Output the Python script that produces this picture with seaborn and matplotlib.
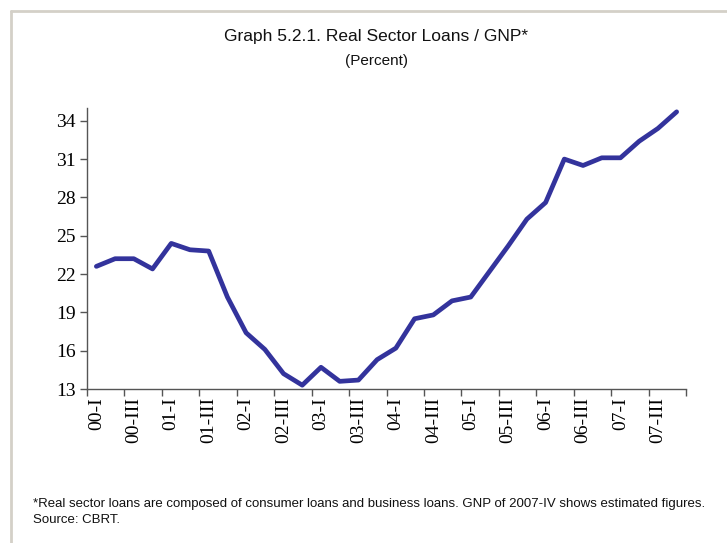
import matplotlib
matplotlib.use('Agg')
import matplotlib.pyplot as plt
import seaborn as sns
import pandas as pd
from matplotlib.lines import Line2D

# quarterly data 2000-I .. 2007-IV
quarters = [f"{y:02d}-{q}" for y in range(0, 8) for q in ['I', 'II', 'III', 'IV']]
loans_gnp = [22.6, 23.2, 23.2, 22.4, 24.4, 23.9, 23.8, 20.2,
             17.4, 16.1, 14.2, 13.3, 14.7, 13.6, 13.7, 15.3,
             16.2, 18.5, 18.8, 19.9, 20.2, 22.2, 24.2, 26.3,
             27.6, 31.0, 30.5, 31.1, 31.1, 32.4, 33.4, 34.7]
y_ticks = [13, 16, 19, 22, 25, 28, 31, 34]

df = pd.DataFrame({'pos': range(len(quarters)), 'quarter': quarters, 'value': loans_gnp})

sns.set_theme(style='white')
narrow = ['Liberation Sans Narrow', 'Liberation Sans', 'DejaVu Sans']
serif = ['Liberation Serif', 'DejaVu Serif']

fig = plt.figure(figsize=(7.27, 5.43), dpi=100)
ax = fig.add_axes([87 / 727, 1 - 389 / 543, (686 - 87) / 727, (389 - 108) / 543])

sns.lineplot(data=df, x='pos', y='value', ax=ax, color='#33339c', linewidth=3.4)

ax.set_xlim(-0.5, len(quarters) - 0.5)
ax.set_ylim(13, 35)
ax.set_yticks(y_ticks)
ax.set_yticklabels([str(t) for t in y_ticks], family=serif, fontsize=14, color='black')

# tick marks on category boundaries, labels at every other quarter
ax.set_xticks([p - 0.5 for p in range(0, len(quarters) + 1, 2)])
ax.set_xticklabels([])
ax.set_xticks(list(range(0, len(quarters), 2)), minor=True)
ax.set_xticklabels(quarters[::2], minor=True, rotation=90, family=serif,
                   fontsize=14, color='black', va='top')
ax.tick_params(axis='x', which='minor', length=0, pad=6)
ax.tick_params(axis='x', which='major', direction='out', length=5, width=1, color='#555555', bottom=True)
ax.tick_params(axis='y', direction='out', length=5, width=1, color='#555555', left=True, pad=3)

ax.set_xlabel('')
ax.set_ylabel('')
for s in ['top', 'right']:
    ax.spines[s].set_visible(False)
for s in ['left', 'bottom']:
    ax.spines[s].set_color('#555555')
    ax.spines[s].set_linewidth(1)

fig.text(376 / 727, 1 - 37 / 543, 'Graph 5.2.1. Real Sector Loans / GNP*', ha='center', va='center',
         family=narrow, fontsize=12.5, color='#111111')
fig.text(376 / 727, 1 - 61 / 543, '(Percent)', ha='center', va='center',
         family=narrow, fontsize=11, color='#111111')
fig.text(33 / 727, 1 - 504 / 543,
         '*Real sector loans are composed of consumer loans and business loans. GNP of 2007-IV shows estimated figures.',
         ha='left', va='center', family=narrow, fontsize=9.5, color='#111111')
fig.text(33 / 727, 1 - 520 / 543, 'Source: CBRT.', ha='left', va='center',
         family=narrow, fontsize=9.5, color='#111111')

# light frame on top and left edge
fig.add_artist(Line2D([10.5 / 727, 1], [1 - 10.5 / 543, 1 - 10.5 / 543], transform=fig.transFigure,
                      color='#d4d0c8', linewidth=2))
fig.add_artist(Line2D([10.5 / 727, 10.5 / 727], [0, 1 - 10.5 / 543], transform=fig.transFigure,
                      color='#d4d0c8', linewidth=2))

fig.savefig('out.png', dpi=100)
